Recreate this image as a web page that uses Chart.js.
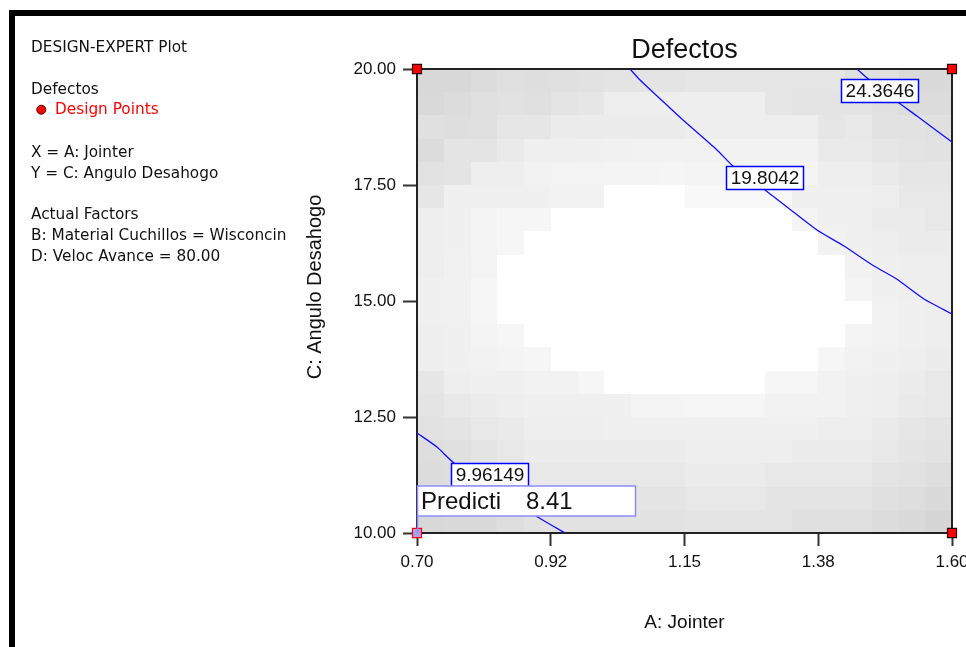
<!DOCTYPE html>
<html>
<head>
<meta charset="utf-8">
<title>Defectos</title>
<script src="https://cdn.jsdelivr.net/npm/chart.js@4.4.0/dist/chart.umd.min.js"></script>
<style>
  html, body { margin: 0; padding: 0; background: #fff; }
</style>
</head>
<body>
<canvas id="defectosChart" width="966" height="647"></canvas>
<script>
// Axis ticks (A: Jointer, C: Angulo Desahogo)
const xTicks = [0.70, 0.925, 1.15, 1.375, 1.60];
const xTickLabels = ["0.70", "0.92", "1.15", "1.38", "1.60"];
const yTicks = [10, 12.5, 15, 17.5, 20];
const yTickLabels = ["10.00", "12.50", "15.00", "17.50", "20.00"];

// Contour lines of Defectos as [A, C] pairs
const contour9 = [[0.70, 12.155], [0.7336, 11.853], [0.7622, 11.509], [0.8228, 11.034],
  [0.8649, 10.711], [0.9002, 10.366], [0.949, 10.0]];
const contour19 = [[1.0583, 20.0], [1.0752, 19.763], [1.1256, 19.159], [1.1475, 18.901],
  [1.2047, 18.254], [1.2316, 17.909], [1.2854, 17.392], [1.3224, 17.026], [1.3729, 16.530],
  [1.4183, 16.185], [1.4688, 15.754], [1.5069, 15.474], [1.5529, 15.043], [1.60, 14.72]];
const contour24 = [[1.4402, 20.0], [1.4553, 19.828], [1.5108, 19.267], [1.5411, 18.987],
  [1.5748, 18.664], [1.60, 18.427]];
const contourLevels = ["9.96149", "19.8042", "24.3646"];
const contourLabelAt = [[0.8228, 11.261], [1.2854, 17.662], [1.4788, 19.537]];

// Design points at the corners
const designA = [0.70, 1.60, 0.70, 1.60];
const designC = [20, 20, 10, 10];

// Flagged prediction
const predA = 0.70;
const predC = 10.00;
const predValue = "8.41";

// Std error shading, 20 x 20 cells, first row at C = 20 (darkness 0..45)
const shadeRows = [
  [39,39,35,31,33,31,29,27,27,27,25,25,25,25,25,25,31,31,37,37],
  [38,35,31,29,31,27,25,17,17,17,17,17,17,25,27,27,27,31,35,35],
  [31,33,31,25,25,19,19,19,19,19,17,17,17,17,17,25,23,29,29,31],
  [35,27,27,21,16,16,15,14,13,13,13,13,13,13,13,21,21,25,27,29],
  [29,27,17,17,13,12,12,11,11,10,11,11,11,11,11,17,17,21,25,25],
  [25,15,15,15,15,13,13,0,0,0,7,7,7,7,15,15,15,17,23,23],
  [17,15,12,9,9,0,0,0,0,0,0,0,0,0,11,15,15,19,19,23],
  [17,15,12,9,0,0,0,0,0,0,0,0,0,0,0,13,15,17,19,19],
  [17,14,11,0,0,0,0,0,0,0,0,0,0,0,0,0,13,15,17,17],
  [15,14,9,0,0,0,0,0,0,0,0,0,0,0,0,0,11,15,17,17],
  [15,14,9,0,0,0,0,0,0,0,0,0,0,0,0,0,0,13,15,17],
  [17,15,11,9,0,0,0,0,0,0,0,0,0,0,0,0,11,13,15,17],
  [17,15,13,11,9,0,0,0,0,0,0,0,0,0,0,9,13,15,17,19],
  [25,17,15,15,13,13,9,0,0,0,0,0,0,9,9,13,15,17,19,23],
  [27,23,19,17,15,15,15,15,11,11,9,9,9,13,13,13,15,17,21,23],
  [29,27,23,21,17,17,17,15,15,15,15,15,15,15,15,17,17,21,25,27],
  [33,31,27,23,19,19,19,19,19,19,17,17,17,17,19,19,19,23,27,29],
  [35,33,31,27,23,23,23,23,23,23,19,19,19,23,23,23,23,27,29,33],
  [37,35,35,31,27,27,27,27,27,27,23,23,23,27,27,27,27,31,33,37],
  [39,37,37,33,29,29,29,29,29,29,27,27,27,27,31,31,31,35,37,41]
];

const FONT = '"Liberation Sans", Arial, sans-serif';
const NOTE_FONT = '"DejaVu Sans", Verdana, sans-serif';

// Grey surface cells plus the plot frame
const surfacePlugin = {
  id: "surface",
  beforeDatasetsDraw(chart) {
    const { ctx, chartArea, scales: { x, y } } = chart;
    const nRows = shadeRows.length, nCols = shadeRows[0].length;
    const dA = (x.max - x.min) / nCols, dC = (y.max - y.min) / nRows;
    ctx.save();
    shadeRows.forEach((row, r) => {
      row.forEach((d, c) => {
        const x0 = Math.round(x.getPixelForValue(x.min + c * dA));
        const x1 = Math.round(x.getPixelForValue(x.min + (c + 1) * dA));
        const y0 = Math.round(y.getPixelForValue(y.max - r * dC));
        const y1 = Math.round(y.getPixelForValue(y.max - (r + 1) * dC));
        const g = 255 - d;
        ctx.fillStyle = `rgb(${g},${g},${g})`;
        ctx.fillRect(x0, y0, x1 - x0, y1 - y0);
      });
    });
    ctx.strokeStyle = "#222";
    ctx.lineWidth = 2;
    ctx.strokeRect(chartArea.left, chartArea.top, chartArea.right - chartArea.left, chartArea.bottom - chartArea.top);
    ctx.restore();
  }
};

// Contour value boxes and the prediction flag
const labelPlugin = {
  id: "contourLabels",
  afterDatasetsDraw(chart) {
    const { ctx, scales: { x, y } } = chart;
    ctx.save();
    ctx.font = "19px " + FONT;
    ctx.textBaseline = "middle";
    ctx.textAlign = "center";
    contourLevels.forEach((txt, i) => {
      const cx = x.getPixelForValue(contourLabelAt[i][0]);
      const cy = y.getPixelForValue(contourLabelAt[i][1]);
      const w = Math.round(ctx.measureText(txt).width + 8), h = 23;
      const bx = Math.round(cx - w / 2) + 0.5, by = Math.round(cy - h / 2) + 0.5;
      ctx.fillStyle = "#fff";
      ctx.fillRect(bx, by, w, h);
      ctx.strokeStyle = "#0000ff";
      ctx.lineWidth = 1.5;
      ctx.strokeRect(bx, by, w, h);
      ctx.fillStyle = "#111";
      ctx.fillText(txt, cx, cy + 1);
    });

    const px = x.getPixelForValue(predA), py = y.getPixelForValue(predC);
    const top = py - 47;
    ctx.fillStyle = "#fff";
    ctx.fillRect(px, top, 218, 30);
    ctx.strokeStyle = "#8c8cff";
    ctx.lineWidth = 1.5;
    ctx.strokeRect(px + 0.5, top, 218, 30);
    ctx.beginPath();
    ctx.moveTo(px + 0.5, top + 30);
    ctx.lineTo(px + 0.5, py);
    ctx.stroke();
    ctx.font = "24px " + FONT;
    ctx.textAlign = "left";
    ctx.fillStyle = "#111";
    ctx.fillText("Predicti", px + 4, top + 16);
    ctx.fillText(predValue, px + 109, top + 16);
    ctx.restore();
  }
};

// Frame band, side notes and the C axis title
const panelPlugin = {
  id: "panel",
  afterDraw(chart) {
    const { ctx, chartArea } = chart;
    ctx.save();
    ctx.fillStyle = "#000";
    ctx.fillRect(9, 10, 957, 6);
    ctx.fillRect(9, 10, 6, 637);

    ctx.font = "15.3px " + NOTE_FONT;
    ctx.textBaseline = "alphabetic";
    ctx.textAlign = "left";
    ctx.fillStyle = "#111";
    const notes = [
      ["DESIGN-EXPERT Plot", 51.5],
      ["Defectos", 94],
      ["X = A: Jointer", 157],
      ["Y = C: Angulo Desahogo", 177.5],
      ["Actual Factors", 219],
      ["B: Material Cuchillos = Wisconcin", 240],
      ["D: Veloc Avance = 80.00", 261]
    ];
    notes.forEach(([t, ty]) => ctx.fillText(t, 31, ty));
    ctx.fillStyle = "#ff0000";
    ctx.fillText("Design Points", 55, 114);
    ctx.beginPath();
    ctx.arc(41.3, 109.7, 4.5, 0, Math.PI * 2);
    ctx.fill();
    ctx.strokeStyle = "#400";
    ctx.lineWidth = 1;
    ctx.stroke();

    // C axis title, sitting a little above the middle of the plot
    ctx.translate(315, (chartArea.top + chartArea.bottom) / 2 - 14);
    ctx.rotate(-Math.PI / 2);
    ctx.font = "20px " + FONT;
    ctx.fillStyle = "#111";
    ctx.textAlign = "center";
    ctx.textBaseline = "middle";
    ctx.fillText("C: Angulo Desahogo", 0, 0);
    ctx.restore();
  }
};

function contourSet(points) {
  return {
    type: "line",
    data: points.map(p => ({ x: p[0], y: p[1] })),
    borderColor: "#1010ff",
    borderWidth: 1.3,
    pointRadius: 0,
    tension: 0.2,
    fill: false
  };
}

const ctx = document.getElementById("defectosChart").getContext("2d");
new Chart(ctx, {
  type: "scatter",
  data: {
    datasets: [
      {
        label: "Design Points",
        data: designA.map((a, i) => ({ x: a, y: designC[i] })),
        pointStyle: "rect",
        pointRadius: 6.4,
        pointBackgroundColor: ["#ff0000", "#ff0000", "#a8a0f0", "#ff0000"],
        pointBorderColor: ["#300", "#300", "#ff0000", "#300"],
        pointBorderWidth: 1.2,
        clip: false
      },
      contourSet(contour9),
      contourSet(contour19),
      contourSet(contour24)
    ]
  },
  options: {
    responsive: false,
    devicePixelRatio: 1,
    animation: false,
    layout: { padding: { left: 296, right: 14, top: 30, bottom: 0 } },
    plugins: {
      legend: { display: false },
      tooltip: { enabled: false },
      title: {
        display: true,
        text: "Defectos",
        fullSize: false,
        color: "#111",
        font: { family: FONT, size: 27, weight: "normal" },
        padding: { top: 4, bottom: 2.6 }
      }
    },
    scales: {
      x: {
        type: "linear",
        min: 0.7,
        max: 1.6,
        afterBuildTicks: s => { s.ticks = xTicks.map(v => ({ value: v })); },
        afterFit: s => { s.height = 114; s.paddingLeft = 0; s.paddingRight = 0; },
        ticks: {
          callback: (v, i) => xTickLabels[i],
          color: "#111",
          font: { family: FONT, size: 17 },
          padding: 6,
          maxRotation: 0,
          autoSkip: false
        },
        grid: { drawOnChartArea: false, drawTicks: true, tickLength: 13, tickWidth: 2, tickColor: "#333" },
        border: { color: "#222", width: 2 },
        title: {
          display: true,
          text: "A: Jointer",
          color: "#111",
          font: { family: FONT, size: 19 },
          padding: { top: 0, bottom: 13 }
        }
      },
      y: {
        type: "linear",
        min: 10,
        max: 20,
        afterBuildTicks: s => { s.ticks = yTicks.map(v => ({ value: v })); },
        afterFit: s => { s.width = 121; s.paddingTop = 0; s.paddingBottom = 0; },
        ticks: {
          callback: (v, i) => yTickLabels[i],
          color: "#111",
          font: { family: FONT, size: 17 },
          padding: 7,
          autoSkip: false
        },
        grid: { drawOnChartArea: false, drawTicks: true, tickLength: 14, tickWidth: 2, tickColor: "#333" },
        border: { color: "#222", width: 2 }
      }
    }
  },
  plugins: [surfacePlugin, labelPlugin, panelPlugin]
});
</script>
</body>
</html>
